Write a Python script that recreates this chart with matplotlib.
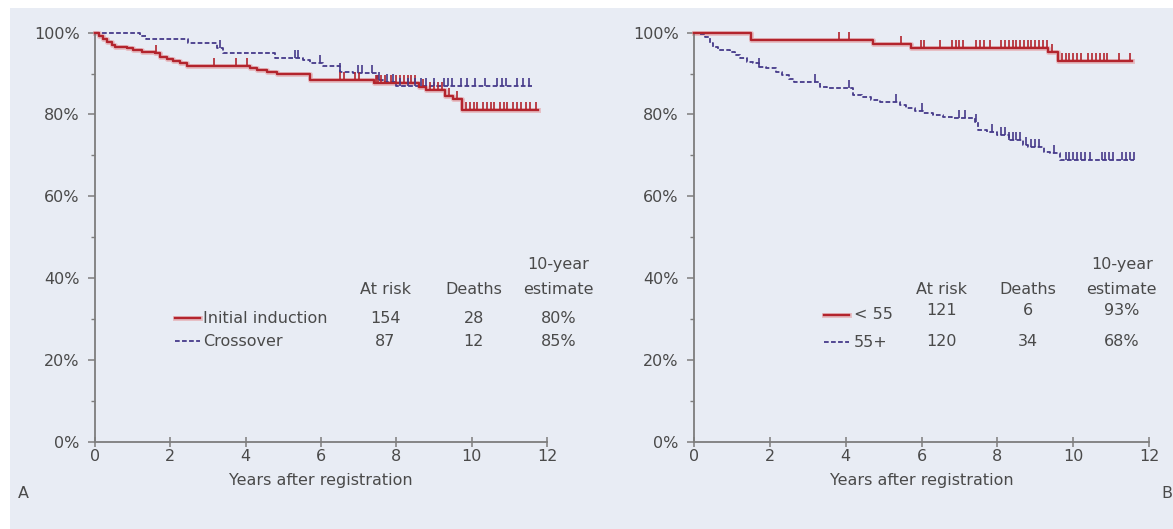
import numpy as np
import matplotlib
matplotlib.use('Agg')
import matplotlib.pyplot as plt
from matplotlib.patches import Rectangle

# ---- data: Kaplan-Meier steps ----
# panel A
a_init_t = [0, 0.10, 0.20, 0.31, 0.45, 0.53, 0.84, 1.02, 1.24, 1.59, 1.73, 1.90, 2.08, 2.26, 2.43,
            4.11, 4.29, 4.56, 4.82, 5.71, 7.40, 8.60, 8.80, 9.30, 9.50, 9.75]
a_init_s = [1.0, 0.992, 0.985, 0.978, 0.970, 0.966, 0.963, 0.958, 0.954, 0.950, 0.941, 0.936, 0.931, 0.925, 0.919,
            0.913, 0.909, 0.905, 0.898, 0.884, 0.877, 0.867, 0.860, 0.845, 0.838, 0.811]
a_init_end = 11.75
a_init_cens = [1.61, 3.16, 3.74, 4.03, 6.5, 6.6, 6.9, 7.0, 7.45, 7.5, 7.6, 7.7, 7.85, 8.0, 8.1, 8.2, 8.3,
               8.4, 8.5, 8.7, 8.9, 9.0, 9.1, 9.2, 9.4, 9.6, 9.85, 9.95, 10.05, 10.15, 10.3, 10.4, 10.5,
               10.6, 10.75, 10.85, 10.95, 11.1, 11.2, 11.3, 11.45, 11.55, 11.7]

a_cross_t = [0, 1.19, 1.35, 2.48, 3.23, 3.41, 4.78, 5.52, 5.70, 6.06, 6.50, 6.85, 7.48, 7.65, 7.98]
a_cross_s = [1.0, 0.992, 0.985, 0.974, 0.962, 0.950, 0.937, 0.933, 0.925, 0.919, 0.905, 0.901, 0.884, 0.880, 0.870]
a_cross_end = 11.6
a_cross_cens = [3.32, 5.3, 5.4, 5.97, 6.5, 6.97, 7.1, 7.35, 7.55, 7.75, 7.9, 8.1, 8.3, 8.5, 8.65, 8.8,
                9.0, 9.27, 9.37, 9.48, 9.72, 9.88, 10.1, 10.35, 10.67, 10.8, 10.9, 11.2, 11.36, 11.52]

# panel B
b_young_t = [0, 1.5, 4.73, 5.73, 9.33, 9.6]
b_young_s = [1.0, 0.982, 0.972, 0.962, 0.953, 0.930]
b_young_end = 11.55
b_young_cens = [3.83, 4.09, 5.47, 5.98, 6.07, 6.5, 6.8, 6.9, 7.0, 7.1, 7.45, 7.55, 7.65, 7.8, 8.1, 8.2,
                8.3, 8.4, 8.5, 8.6, 8.7, 8.8, 8.9, 9.0, 9.1, 9.2, 9.3, 9.45, 9.7, 9.8, 9.9, 10.0, 10.1,
                10.2, 10.4, 10.5, 10.6, 10.7, 10.8, 10.9, 11.2, 11.5]

b_old_t = [0, 0.16, 0.29, 0.42, 0.51, 0.64, 0.95, 1.08, 1.21, 1.39, 1.56, 1.72, 1.90, 2.16, 2.33, 2.51,
           2.65, 3.32, 3.50, 4.20, 4.42, 4.68, 4.90, 5.43, 5.60, 5.82, 6.05, 6.31, 6.58, 6.80, 7.41,
           7.50, 7.72, 7.98, 8.30, 8.69, 8.82, 9.22, 9.40, 9.66]
b_old_s = [1.0, 0.998, 0.990, 0.974, 0.966, 0.958, 0.954, 0.945, 0.937, 0.929, 0.925, 0.917, 0.913,
           0.905, 0.897, 0.888, 0.880, 0.868, 0.864, 0.848, 0.844, 0.835, 0.830, 0.823, 0.817, 0.809,
           0.803, 0.799, 0.795, 0.791, 0.782, 0.762, 0.756, 0.750, 0.738, 0.725, 0.721, 0.709, 0.705, 0.689]
b_old_end = 11.6
b_old_cens = [1.72, 3.19, 4.1, 5.34, 6.0, 6.98, 7.16, 7.45, 7.85, 8.1, 8.2, 8.3, 8.4, 8.5, 8.6, 8.75,
              8.9, 9.0, 9.1, 9.5, 9.8, 9.9, 10.0, 10.1, 10.2, 10.3, 10.45, 10.75, 10.85, 10.95, 11.05,
              11.3, 11.4, 11.5, 11.6]

# table text
a_groups = ['Initial induction', 'Crossover']
a_at_risk = ['154', '87']
a_deaths = ['28', '12']
a_est = ['80%', '85%']
b_groups = ['< 55', '55+']
b_at_risk = ['121', '120']
b_deaths = ['6', '34']
b_est = ['93%', '68%']

RED = '#b3242d'
HALO = '#e6a2a6'
BLUE = '#463a8a'
GREY = '#7d7d7d'
TXT = '#4a4a4a'
BG = '#e8ecf4'
FS = 11.5

plt.rcParams['font.family'] = ['DejaVu Sans']

fig = plt.figure(figsize=(11.73, 5.29), dpi=100)
fig.patch.set_facecolor('white')
fig.patches.append(Rectangle((10 / 1173, 0), 1163 / 1173, 521 / 529, transform=fig.transFigure,
                             facecolor=BG, edgecolor='none', zorder=-10))


def surv_at(t, s, x):
    i = np.searchsorted(t, x, side='right') - 1
    return np.asarray(s)[i]


def km(ax, t, s, end, cens, color, dashed):
    tt = list(t) + [end]
    ss = list(s) + [s[-1]]
    if dashed:
        ax.step(tt, ss, where='post', color=color, lw=1.3, ls=(0, (2.6, 1.3)), clip_on=False, zorder=3)
    else:
        ax.step(tt, ss, where='post', color=HALO, lw=3.6, alpha=0.6, clip_on=False, zorder=2)
        ax.step(tt, ss, where='post', color=color, lw=1.7, clip_on=False, zorder=4)
    y = surv_at(t, s, cens)
    ax.vlines(cens, y, y + 0.02, color=color, lw=1.2, clip_on=False, zorder=5)


def style(ax):
    ax.set_facecolor('none')
    ax.set_xlim(0, 12)
    ax.set_ylim(0, 1)
    for sp in ['top', 'right']:
        ax.spines[sp].set_visible(False)
    for sp in ['left', 'bottom']:
        ax.spines[sp].set_color(GREY)
        ax.spines[sp].set_linewidth(1.3)
    ax.set_xticks(range(0, 13, 2))
    ax.set_yticks(np.arange(0, 1.01, 0.2))
    ax.set_yticks(np.arange(0.1, 1.0, 0.2), minor=True)
    ax.set_yticklabels(['%d%%' % v for v in range(0, 101, 20)])
    ax.tick_params(axis='y', which='major', direction='out', length=5, width=1.1, color=GREY,
                   labelsize=FS, labelcolor=TXT, pad=6)
    ax.tick_params(axis='y', which='minor', direction='out', length=3, width=1.0, color=GREY)
    ax.tick_params(axis='x', direction='inout', length=7, width=1.1, color=GREY,
                   labelsize=FS, labelcolor=TXT, pad=2)
    ax.set_xlabel('Years after registration', fontsize=FS, color=TXT, labelpad=6)


def table(ax, xline, xlab, xcols, yhead, ylabs, groups, risk, deaths, est, yshift):
    kw = dict(fontsize=FS, color=TXT, va='center', clip_on=False)
    ax.text(xcols[0], yhead, 'At risk', ha='center', **kw)
    ax.text(xcols[1], yhead, 'Deaths', ha='center', **kw)
    ax.text(xcols[2], yhead + 0.062, '10-year', ha='center', **kw)
    ax.text(xcols[2], yhead, 'estimate', ha='center', **kw)
    for i in range(2):
        y = ylabs[i]
        yl = y + yshift[i]
        if i == 0:
            ax.plot(xline, [yl, yl], color=HALO, lw=3.6, alpha=0.6, clip_on=False)
            ax.plot(xline, [yl, yl], color=RED, lw=1.7, clip_on=False)
        else:
            ax.plot(xline, [yl, yl], color=BLUE, lw=1.3, ls=(0, (2.6, 1.3)), clip_on=False)
        ax.text(xlab, yl, groups[i], ha='left', **kw)
        ax.text(xcols[0], y, risk[i], ha='center', **kw)
        ax.text(xcols[1], y, deaths[i], ha='center', **kw)
        ax.text(xcols[2], y, est[i], ha='center', **kw)


axA = fig.add_axes([95 / 1173, 87.3 / 529, 452 / 1173, 409 / 529])
style(axA)
km(axA, a_init_t, a_init_s, a_init_end, a_init_cens, RED, False)
km(axA, a_cross_t, a_cross_s, a_cross_end, a_cross_cens, BLUE, True)
table(axA, [2.12, 2.78], 2.86, [7.7, 10.06, 12.3], 0.371, [0.302, 0.246],
      a_groups, a_at_risk, a_deaths, a_est, [0.0, 0.0])

axB = fig.add_axes([694 / 1173, 87.3 / 529, 455 / 1173, 409 / 529])
style(axB)
km(axB, b_young_t, b_young_s, b_young_end, b_young_cens, RED, False)
km(axB, b_old_t, b_old_s, b_old_end, b_old_cens, BLUE, True)
table(axB, [3.42, 4.1], 4.22, [6.52, 8.81, 11.28], 0.371, [0.320, 0.246],
      b_groups, b_at_risk, b_deaths, b_est, [-0.01, -0.003])

fig.text(18 / 1173, 1 - 494 / 529, 'A', fontsize=FS, color=TXT, ha='left', va='center')
fig.text(1167 / 1173, 1 - 494 / 529, 'B', fontsize=FS, color=TXT, ha='center', va='center')

fig.savefig('out.png', dpi=100, facecolor='white')
